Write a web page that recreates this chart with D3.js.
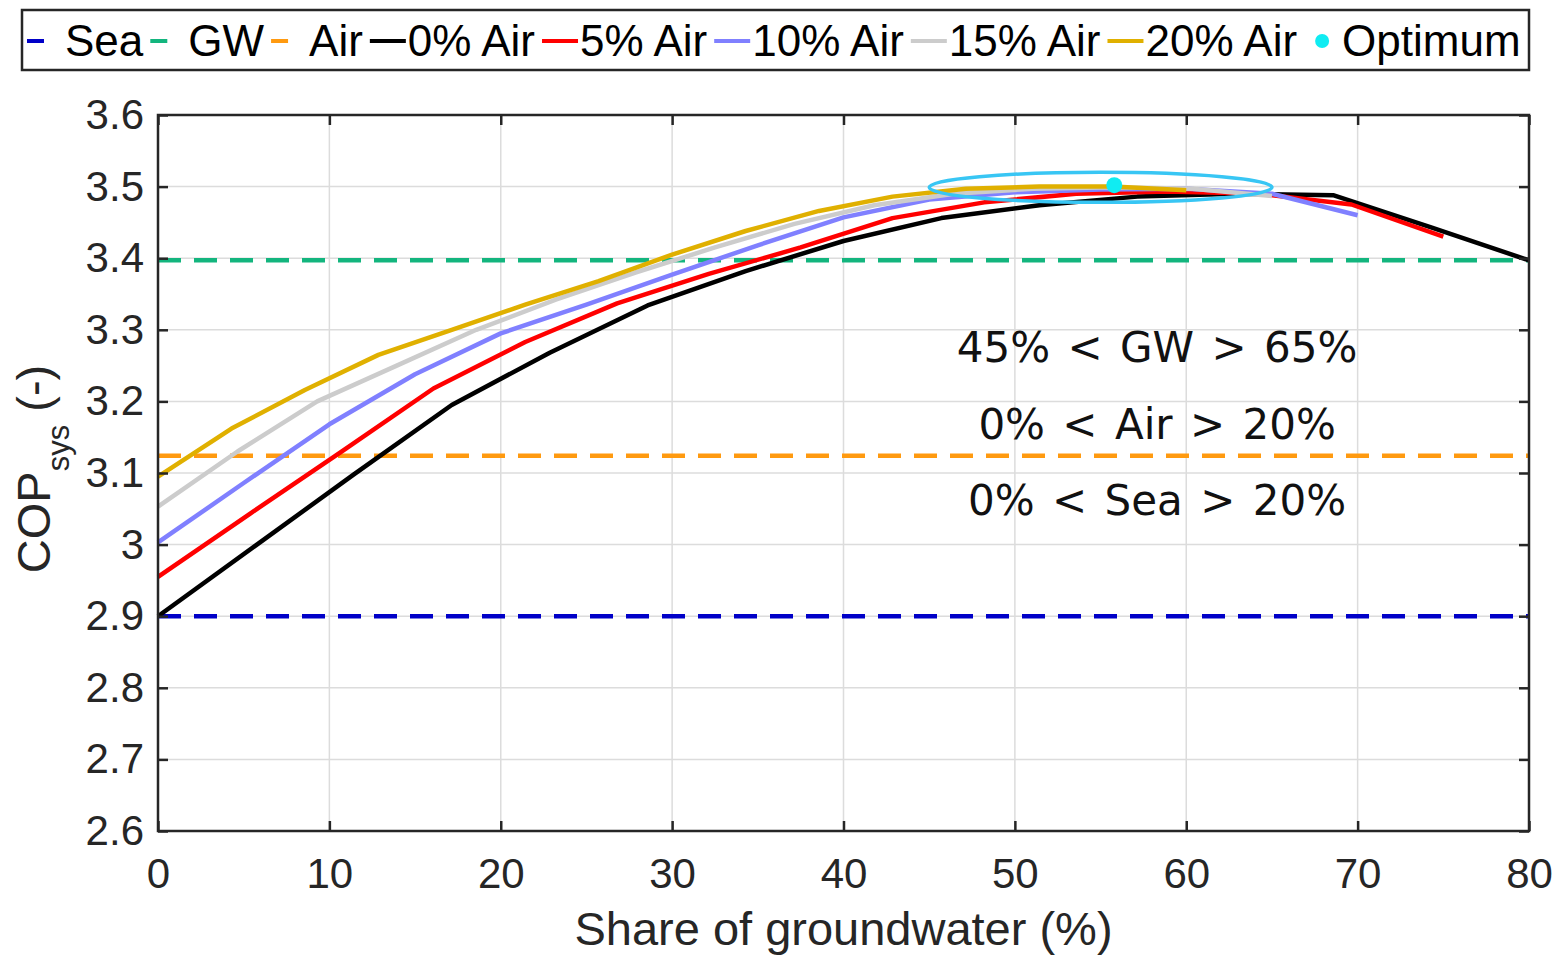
<!DOCTYPE html>
<html>
<head>
<meta charset="utf-8">
<script src="https://cdn.jsdelivr.net/npm/d3@7"></script>
<style>
  body { margin: 0; background: #fff; }
  svg { display: block; font-family: "Liberation Sans", Arial, sans-serif; }
</style>
</head>
<body>
<svg id="chart" width="1556" height="956"></svg>
<script>
// axis ticks
var xTicks = [0, 10, 20, 30, 40, 50, 60, 70, 80];
var yTicks = [2.6, 2.7, 2.8, 2.9, 3, 3.1, 3.2, 3.3, 3.4, 3.5, 3.6];

// single-source reference levels (dashed)
var refNames = ['Sea', 'GW', 'Air'];
var refValues = [2.9, 3.397, 3.124];

// hybrid curves, x = share of groundwater (%)
var airNames = ['0% Air', '5% Air', '10% Air', '15% Air', '20% Air'];
var air0X = [0, 5.71, 11.43, 17.14, 22.86, 28.57, 34.29, 40, 45.71, 51.43, 57.14, 62.86, 68.57, 74.29, 80];
var air0Y = [2.900, 2.999, 3.098, 3.195, 3.268, 3.334, 3.382, 3.424, 3.456, 3.474, 3.486, 3.490, 3.488, 3.443, 3.397];
var air5X = [0, 5.36, 10.71, 16.07, 21.43, 26.79, 32.14, 37.5, 42.86, 48.21, 53.57, 58.93, 64.29, 69.64, 75];
var air5Y = [2.955, 3.043, 3.130, 3.218, 3.283, 3.337, 3.378, 3.415, 3.456, 3.478, 3.490, 3.493, 3.490, 3.475, 3.430];
var air10X = [0, 5, 10, 15, 20, 25, 30, 35, 40, 45, 50, 55, 60, 65, 70];
var air10Y = [3.003, 3.086, 3.168, 3.238, 3.295, 3.335, 3.377, 3.418, 3.457, 3.482, 3.492, 3.496, 3.497, 3.490, 3.460];
var air15X = [0, 4.64, 9.29, 13.93, 18.57, 23.21, 27.86, 32.5, 37.14, 41.79, 46.43, 51.07, 55.71, 60.36, 65];
var air15Y = [3.053, 3.130, 3.200, 3.250, 3.300, 3.342, 3.380, 3.415, 3.448, 3.474, 3.490, 3.497, 3.499, 3.497, 3.487];
var air20X = [0, 4.29, 8.57, 12.86, 17.14, 21.43, 25.71, 30, 34.29, 38.57, 42.86, 47.14, 51.43, 55.71, 60];
var air20Y = [3.095, 3.162, 3.216, 3.265, 3.300, 3.335, 3.368, 3.405, 3.438, 3.466, 3.486, 3.497, 3.500, 3.500, 3.495];

var optimumX = 55.8;
var optimumY = 3.502;
var regionX = [45, 65];
var regionY = [3.478, 3.520];
var noteLines = ['45% < GW > 65%', '0% < Air > 20%', '0% < Sea > 20%'];
var noteY = [3.255, 3.147, 3.041];
var noteX = 58.3;

// styles
var refColors = ['#0000c8', '#13b57e', '#ff9a10'];
var airColors = ['#000000', '#ff0000', '#8080ff', '#cccccc', '#e0b000'];
var textColor = '#262626';

var svg = d3.select('#chart');
var x = d3.scaleLinear().domain([0, 80]).range([158, 1529]);
var y = d3.scaleLinear().domain([2.6, 3.6]).range([831, 115]);

// grid
var grid = svg.append('g').attr('stroke', '#dcdcdc').attr('stroke-width', 1.5);
grid.selectAll('.gx').data(xTicks).enter().append('line')
  .attr('x1', function(d) { return x(d); }).attr('x2', function(d) { return x(d); })
  .attr('y1', y(3.6)).attr('y2', y(2.6));
grid.selectAll('.gy').data(yTicks).enter().append('line')
  .attr('y1', function(d) { return y(d); }).attr('y2', function(d) { return y(d); })
  .attr('x1', x(0)).attr('x2', x(80));

// dashed reference lines
svg.append('g').selectAll('line').data(refValues).enter().append('line')
  .attr('x1', x(0)).attr('x2', x(80))
  .attr('y1', function(d) { return y(d); }).attr('y2', function(d) { return y(d); })
  .attr('stroke', function(d, i) { return refColors[i]; })
  .attr('stroke-width', 4.5)
  .attr('stroke-dasharray', '23,13');

var curves = [
  { xs: air0X, ys: air0Y },
  { xs: air5X, ys: air5Y },
  { xs: air10X, ys: air10Y },
  { xs: air15X, ys: air15Y },
  { xs: air20X, ys: air20Y }
];
var line = d3.line().x(function(d) { return x(d[0]); }).y(function(d) { return y(d[1]); });

svg.append('g').selectAll('path').data(curves).enter().append('path')
  .attr('d', function(c) { return line(d3.zip(c.xs, c.ys)); })
  .attr('fill', 'none')
  .attr('stroke', function(c, i) { return airColors[i]; })
  .attr('stroke-width', 4.5)
  .attr('stroke-linejoin', 'round');

svg.append('circle')
  .attr('cx', x(optimumX)).attr('cy', y(optimumY)).attr('r', 8)
  .attr('fill', '#10ecf2');

svg.append('ellipse')
  .attr('cx', x((regionX[0] + regionX[1]) / 2))
  .attr('cy', y((regionY[0] + regionY[1]) / 2))
  .attr('rx', (x(regionX[1]) - x(regionX[0])) / 2)
  .attr('ry', (y(regionY[0]) - y(regionY[1])) / 2)
  .attr('fill', 'none').attr('stroke', '#38c6f4').attr('stroke-width', 3.5);

svg.append('g').selectAll('text').data(noteLines).enter().append('text')
  .attr('x', x(noteX))
  .attr('y', function(d, i) { return y(noteY[i]); })
  .attr('text-anchor', 'middle')
  .style('font-family', '"DejaVu Sans", Verdana, sans-serif')
  .style('font-size', '42px')
  .style('word-spacing', '4px')
  .attr('fill', '#111')
  .text(function(d) { return d; });

// axes with inward ticks
var axB = svg.append('g').attr('transform', 'translate(0,' + y(2.6) + ')')
  .call(d3.axisBottom(x).tickValues(xTicks).tickSize(-10).tickPadding(27));
var axL = svg.append('g').attr('transform', 'translate(' + x(0) + ',0)')
  .call(d3.axisLeft(y).tickValues(yTicks).tickSize(-10).tickPadding(14).tickFormat(d3.format('~g')));
var axT = svg.append('g').attr('transform', 'translate(0,' + y(3.6) + ')')
  .call(d3.axisTop(x).tickValues(xTicks).tickSize(-10).tickFormat(''));
var axR = svg.append('g').attr('transform', 'translate(' + x(80) + ',0)')
  .call(d3.axisRight(y).tickValues(yTicks).tickSize(-10).tickFormat(''));

[axB, axL, axT, axR].forEach(function(a) {
  a.select('.domain').remove();
  a.selectAll('line').attr('stroke', textColor).attr('stroke-width', 2.5);
  a.selectAll('text').attr('fill', textColor)
    .style('font-family', '"Liberation Sans", Arial, sans-serif').style('font-size', '42px');
});

svg.append('rect')
  .attr('x', x(0)).attr('y', y(3.6))
  .attr('width', x(80) - x(0)).attr('height', y(2.6) - y(3.6))
  .attr('fill', 'none').attr('stroke', textColor).attr('stroke-width', 2.5);

// axis labels
svg.append('text')
  .attr('x', (x(0) + x(80)) / 2).attr('y', 945)
  .attr('text-anchor', 'middle').attr('fill', textColor)
  .style('font-size', '47px')
  .text('Share of groundwater (%)');

var yl = svg.append('text')
  .attr('transform', 'translate(50,469) rotate(-90)')
  .attr('text-anchor', 'middle').attr('fill', textColor)
  .style('font-size', '47px');
yl.append('tspan').text('COP');
yl.append('tspan').attr('dy', 19).style('font-size', '31px').text('sys');
yl.append('tspan').attr('dy', -19).text(' (-)');

// legend
var legendItems = [];
refNames.forEach(function(n, i) { legendItems.push({ name: n, color: refColors[i], kind: 'dash' }); });
airNames.forEach(function(n, i) { legendItems.push({ name: n, color: airColors[i], kind: 'line' }); });
legendItems.push({ name: 'Optimum', color: '#10ecf2', kind: 'dot' });

var leg = svg.append('g');
leg.append('rect').attr('x', 22).attr('y', 10).attr('width', 1507).attr('height', 60)
  .attr('fill', '#fff').attr('stroke', textColor).attr('stroke-width', 2.5);

var lx = 27, ly = 41;
legendItems.forEach(function(it) {
  if (it.kind === 'dash') {
    leg.append('line').attr('x1', lx).attr('x2', lx + 17).attr('y1', ly).attr('y2', ly)
      .attr('stroke', it.color).attr('stroke-width', 4);
  } else if (it.kind === 'line') {
    leg.append('line').attr('x1', lx).attr('x2', lx + 36).attr('y1', ly).attr('y2', ly)
      .attr('stroke', it.color).attr('stroke-width', 4);
  } else {
    leg.append('circle').attr('cx', lx + 18).attr('cy', ly).attr('r', 7).attr('fill', it.color);
  }
  var t = leg.append('text').attr('x', lx + 38).attr('y', ly + 15)
    .attr('fill', '#000').style('font-size', '44px').text(it.name);
  lx = lx + 38 + t.node().getComputedTextLength() + 7;
});
</script>
</body>
</html>
